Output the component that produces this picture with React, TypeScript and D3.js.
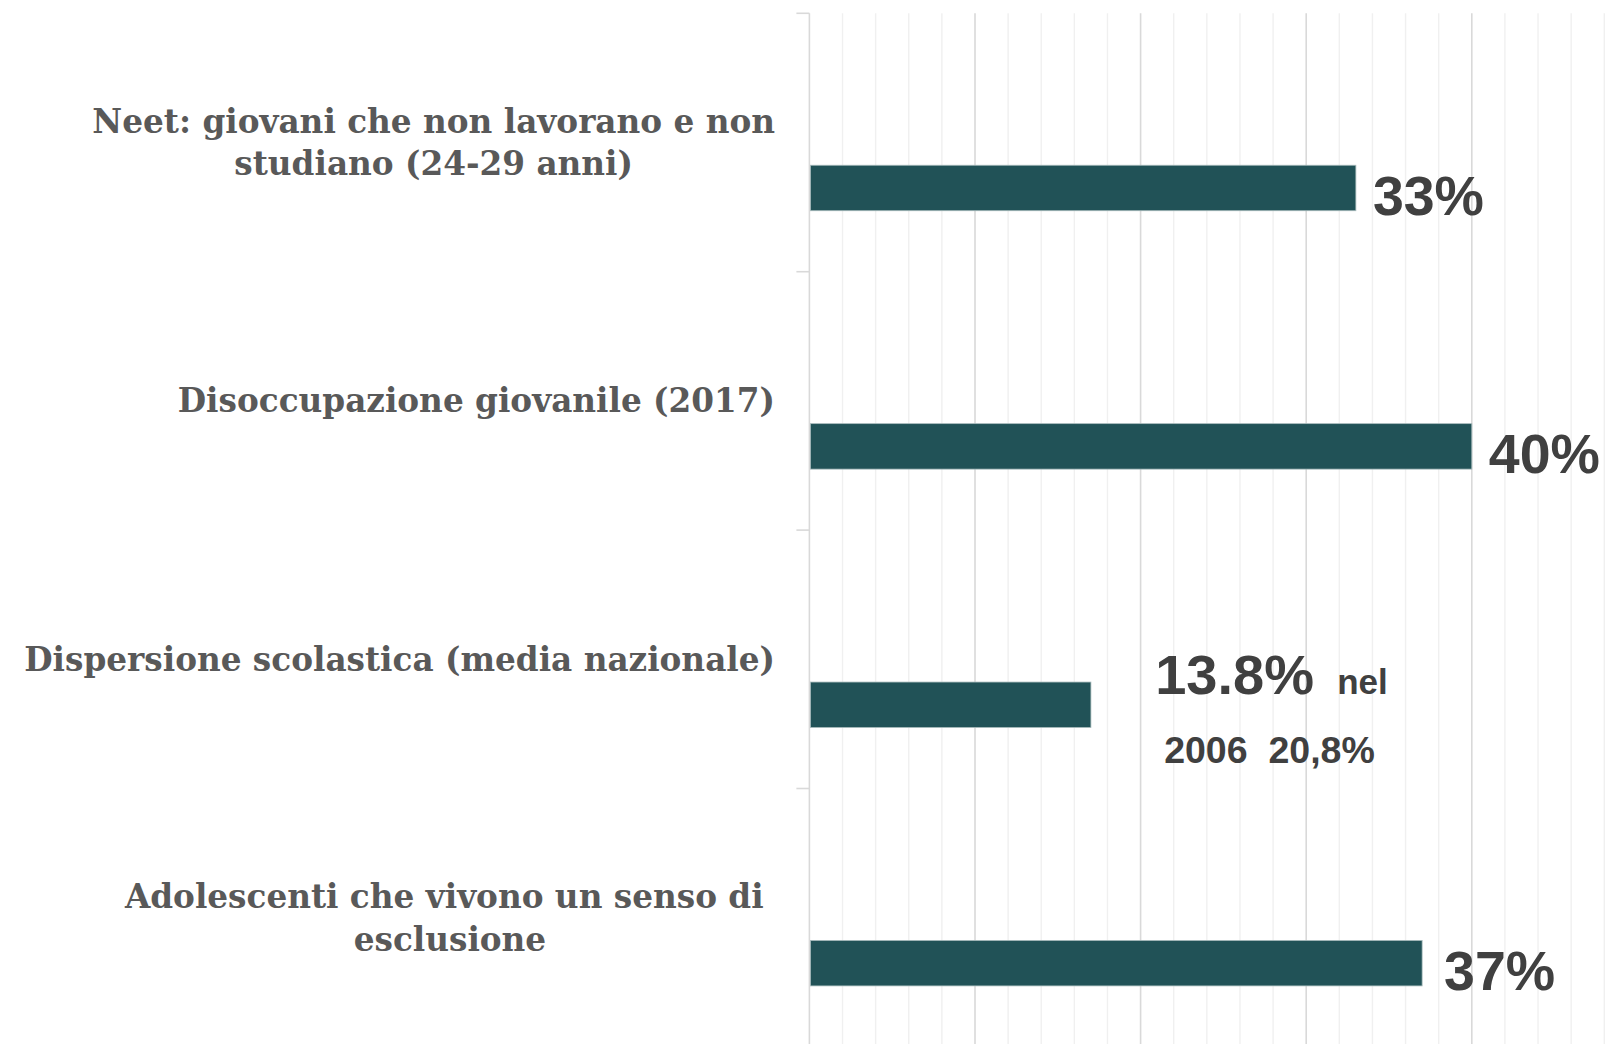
import React, { useEffect, useRef } from "react";
import * as d3 from "d3";

const categories = [
  "Neet: giovani che non lavorano e non studiano (24-29 anni)",
  "Disoccupazione giovanile (2017)",
  "Dispersione scolastica (media nazionale)",
  "Adolescenti che vivono un senso di esclusione",
];
const categoryLines = [
  ["Neet: giovani che non lavorano e non", "studiano (24-29 anni)"],
  ["Disoccupazione giovanile (2017)"],
  ["Dispersione scolastica (media nazionale)"],
  ["Adolescenti che vivono un senso di\u00A0", "esclusione"],
];
const values = [33, 40, 17, 37];
const valueLabels = ["33%", "40%", "", "37%"];
const noteMain = "13.8%";
const noteSmall = "nel";
const noteLine2 = "2006\u00A0 20,8%";
const gridTicks = d3.range(0, 51, 2);

const W = 1623;
const H = 1044;
const X0 = 809.4;
const PER = 16.56;
const TOP = 13.3;
const BAND = 258.4;

export default function App() {
  const labelRef = useRef<SVGGElement>(null);
  const x = d3.scaleLinear().domain([0, 50]).range([X0, X0 + 50 * PER]);
  const y = d3
    .scaleBand<string>()
    .domain(categories)
    .range([TOP, TOP + categories.length * BAND])
    .padding(0);
  const bw = y.bandwidth();
  const barOff = bw * 0.588;
  const barH = bw * 0.176;
  const labelRight = 775;
  const lineH = 42.8;

  useEffect(() => {
    if (!labelRef.current) return;
    const g = d3.select(labelRef.current);
    g.selectAll<SVGGElement, unknown>("g.lbl").each(function () {
      const grp = d3.select(this);
      let maxW = 0;
      grp.selectAll<SVGTextElement, unknown>("text").each(function () {
        maxW = Math.max(maxW, this.getComputedTextLength());
      });
      grp.selectAll("text").attr("x", labelRight - maxW / 2);
    });
  }, []);

  const y3 = (y(categories[2]) as number) + barOff;

  return (
    <svg
      width={W}
      height={H}
      style={{ position: "fixed", left: 0, top: 0, background: "#fff" }}
    >
      {gridTicks.map((t) => (
        <line
          key={t}
          x1={x(t)}
          x2={x(t)}
          y1={TOP}
          y2={H + 5}
          stroke={t % 10 === 0 ? "#D9D9D9" : "#F0F0F0"}
          strokeWidth={t % 10 === 0 ? 1.6 : 1.4}
        />
      ))}
      {d3.range(categories.length + 1).map((i) => (
        <line
          key={"tk" + i}
          x1={X0 - 13}
          x2={X0}
          y1={TOP + i * BAND}
          y2={TOP + i * BAND}
          stroke="#D9D9D9"
          strokeWidth={1.6}
        />
      ))}
      {categories.map((c, i) => (
        <rect
          key={c}
          x={x(0) + 1}
          y={(y(c) as number) + barOff}
          width={x(values[i]) - x(0) - 1}
          height={barH}
          fill="#215257"
          stroke="#a9bcbd"
          strokeWidth={0.8}
        />
      ))}
      {categories.map((c, i) =>
        valueLabels[i] ? (
          <text
            key={"v" + c}
            x={x(values[i]) + (i === 3 ? 22 : 17)}
            y={(y(c) as number) + barOff + barH / 2 + 27}
            fontFamily="'Liberation Sans', Arial, sans-serif"
            fontWeight="bold"
            fontSize={55.5}
            fill="#404040"
          >
            {valueLabels[i]}
          </text>
        ) : null
      )}
      <g
        fontFamily="'Liberation Sans', Arial, sans-serif"
        fontWeight="bold"
        fill="#404040"
      >
        <text x={x(21) - 2} y={y3 + 12} fontSize={56}>
          {noteMain}
        </text>
        <text x={x(21) + 180} y={y3 + 12} fontSize={35}>
          {noteSmall}
        </text>
        <text x={x(21) + 7} y={y3 + 81} fontSize={37.5}>
          {noteLine2}
        </text>
      </g>
      <g
        ref={labelRef}
        fontFamily="'DejaVu Serif', serif"
        fontWeight="bold"
        fontSize={32.7}
        fill="#595959"
      >
        {categories.map((c, i) => {
          const lines = categoryLines[i];
          const cy = (y(c) as number) + bw / 2;
          return (
            <g className="lbl" key={"l" + c}>
              {lines.map((ln, j) => (
                <text
                  key={j}
                  x={labelRight}
                  y={cy + (j - (lines.length - 1) / 2) * lineH}
                  textAnchor="middle"
                  dominantBaseline="central"
                >
                  {ln}
                </text>
              ))}
            </g>
          );
        })}
      </g>
    </svg>
  );
}
